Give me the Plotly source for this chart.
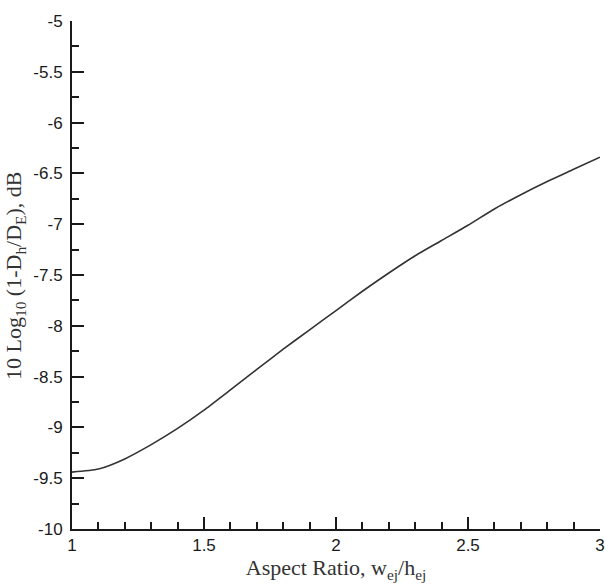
import plotly.graph_objects as go

# Aspect ratio w_ej/h_ej and the corresponding 10 log10(1 - Dh/DE) in dB
aspect_ratio = [1.0, 1.1, 1.2, 1.3, 1.4, 1.5, 1.6, 1.7, 1.8, 1.9, 2.0,
                2.1, 2.2, 2.3, 2.4, 2.5, 2.6, 2.7, 2.8, 2.9, 3.0]
level_db = [-9.44, -9.41, -9.31, -9.17, -9.01, -8.83, -8.63, -8.43, -8.23, -8.04, -7.85,
            -7.66, -7.48, -7.31, -7.16, -7.01, -6.85, -6.71, -6.58, -6.46, -6.34]

x_ticks = [1, 1.5, 2, 2.5, 3]
x_tick_text = ["1", "1.5", "2", "2.5", "3"]
y_ticks = [-10, -9.5, -9, -8.5, -8, -7.5, -7, -6.5, -6, -5.5, -5]
y_tick_text = ["-10", "-9.5", "-9", "-8.5", "-8", "-7.5", "-7", "-6.5", "-6", "-5.5", "-5"]

ink = "#1a1a1a"
tick_font = dict(family="Liberation Sans, Arial, sans-serif", size=17, color=ink)
title_font = dict(family="Liberation Serif, Times New Roman, serif", size=22, color="#333333")

fig = go.Figure()
fig.add_trace(go.Scatter(
    x=aspect_ratio, y=level_db, mode="lines",
    line=dict(color="#333333", width=1.6, shape="spline", smoothing=0.6),
    showlegend=False,
))

axis_common = dict(
    showgrid=False, zeroline=False, showline=True, linecolor=ink, linewidth=2,
    ticks="inside", ticklen=12, tickwidth=1.6, tickcolor=ink,
    tickfont=tick_font, mirror=False,
)

fig.update_xaxes(
    range=[1, 3], tickmode="array", tickvals=x_ticks, ticktext=x_tick_text,
    minor=dict(dtick=0.1, tick0=1, ticks="inside", ticklen=7, tickwidth=1.6, tickcolor=ink),
    title=dict(text="Aspect Ratio, w<sub>ej</sub>/h<sub>ej</sub>", font=title_font, standoff=0),
    **axis_common,
)
fig.update_yaxes(
    range=[-10, -5], tickmode="array", tickvals=y_ticks, ticktext=y_tick_text,
    minor=dict(dtick=0.25, tick0=-10, ticks="inside", ticklen=7, tickwidth=1.6, tickcolor=ink),
    ticklabelstandoff=4,
    **axis_common,
)

# Vertical axis title placed close to the tick labels
fig.add_annotation(
    text="10 Log<sub>10</sub> (1-D<sub>h</sub>/D<sub>E</sub>), dB",
    font=title_font, textangle=-90, showarrow=False,
    xref="paper", yref="paper", x=-0.108, y=0.5,
    xanchor="center", yanchor="middle",
)

fig.update_layout(
    width=606, height=584,
    margin=dict(l=72, r=6, t=21, b=55, autoexpand=False),
    paper_bgcolor="white", plot_bgcolor="white",
)

fig.write_html("out.html")
